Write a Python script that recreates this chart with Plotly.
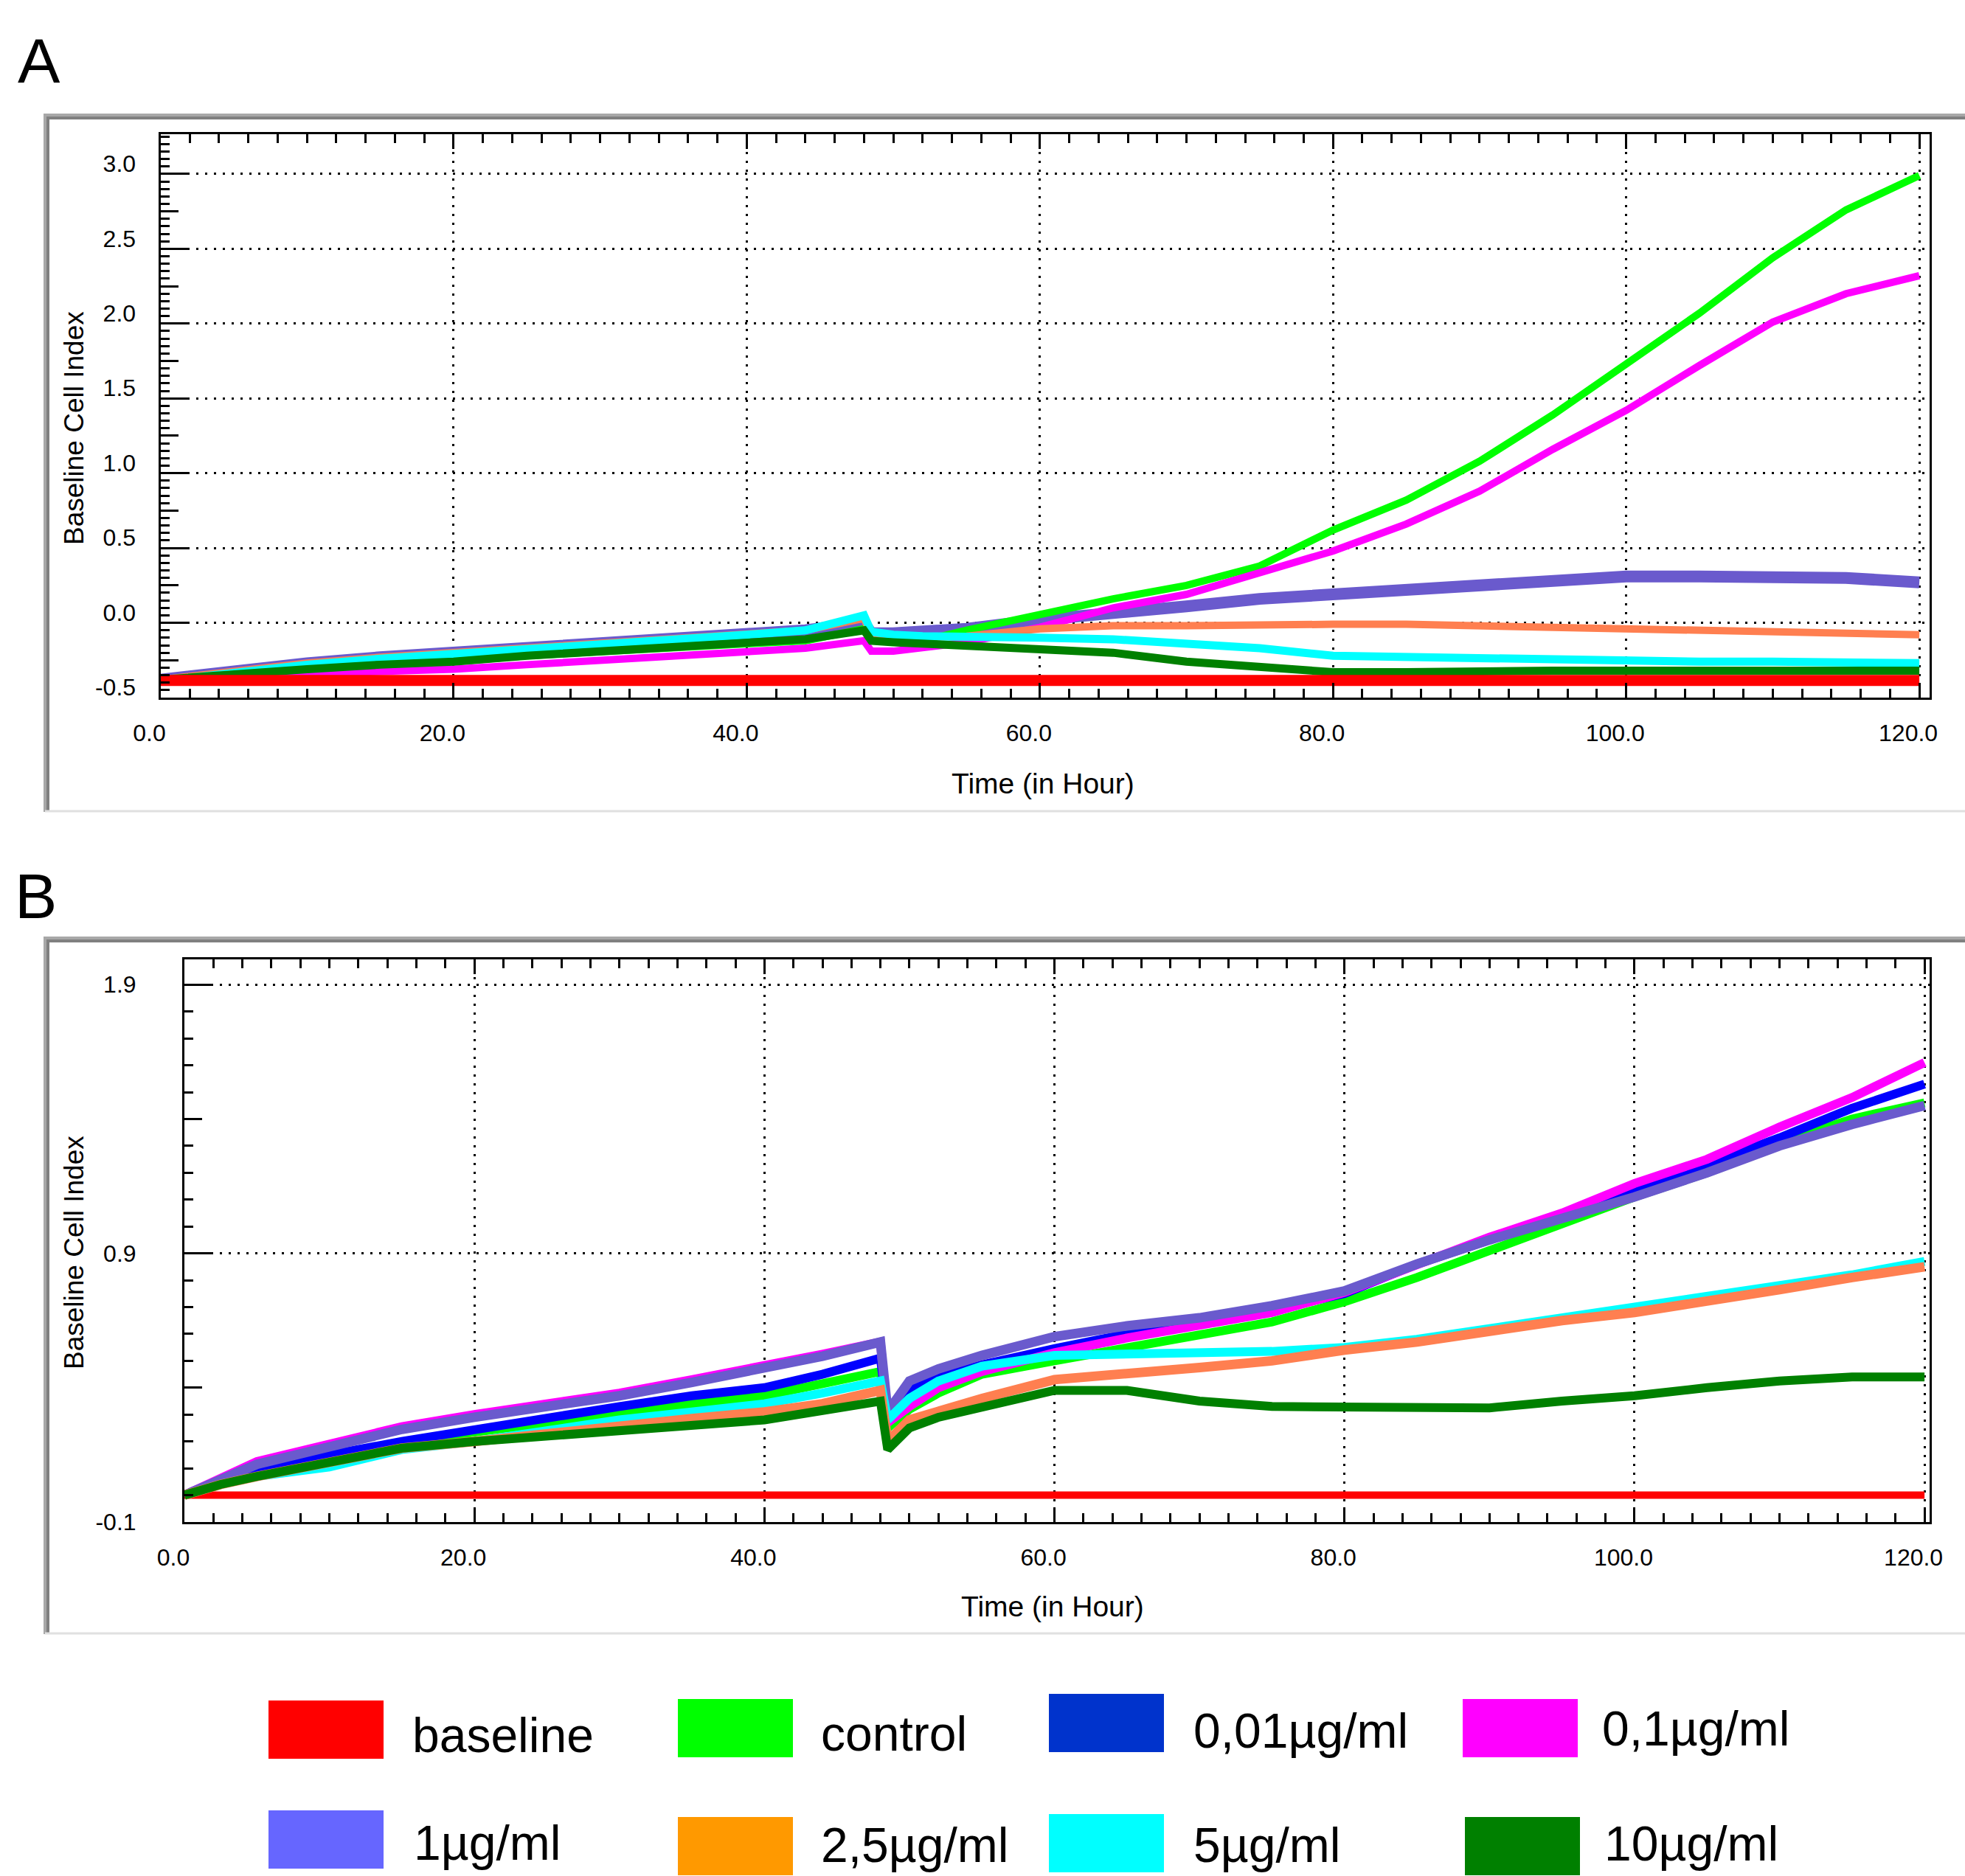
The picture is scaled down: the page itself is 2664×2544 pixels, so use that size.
import plotly.graph_objects as go

# ---------------- data ----------------
hours = [0, 2.5, 5, 10, 15, 20, 25, 30, 35, 40, 44, 48, 48.5, 50, 52, 55,
         60, 65, 70, 75, 80, 85, 90, 95, 100, 105, 110, 115, 120]

# Panel A - Baseline Cell Index
a_baseline = [-0.385] * 29
a_control = [-0.38, -0.36, -0.34, -0.31, -0.28, -0.26, -0.22, -0.19, -0.17, -0.14, -0.12, -0.04,
             -0.12, -0.12, -0.12, -0.05, 0.06, 0.16, 0.25, 0.38, 0.62, 0.82, 1.08, 1.39, 1.73,
             2.07, 2.44, 2.76, 2.99]
a_dose_0_1 = [-0.39, -0.37, -0.36, -0.34, -0.33, -0.31, -0.28, -0.25, -0.22, -0.19, -0.17, -0.12,
              -0.19, -0.19, -0.17, -0.13, -0.03, 0.10, 0.19, 0.33, 0.48, 0.66, 0.88, 1.16, 1.42,
              1.72, 2.01, 2.20, 2.32]
a_dose_1 = [-0.38, -0.35, -0.33, -0.27, -0.23, -0.20, -0.16, -0.13, -0.10, -0.08, -0.05, 0.00,
            -0.07, -0.07, -0.06, -0.04, 0.02, 0.06, 0.11, 0.16, 0.19, 0.22, 0.25, 0.28, 0.31,
            0.31, 0.31, 0.30, 0.27]
a_dose_2_5 = [-0.38, -0.35, -0.33, -0.27, -0.23, -0.20, -0.16, -0.13, -0.10, -0.08, -0.05, 0.03,
              -0.09, -0.10, -0.10, -0.09, -0.04, -0.02, -0.02, -0.01, -0.01, -0.01, -0.02, -0.03,
              -0.04, -0.05, -0.06, -0.07, -0.08]
a_dose_5 = [-0.39, -0.36, -0.33, -0.28, -0.24, -0.21, -0.17, -0.14, -0.11, -0.08, -0.05, 0.05,
            -0.06, -0.08, -0.09, -0.09, -0.10, -0.11, -0.14, -0.17, -0.22, -0.23, -0.24, -0.25,
            -0.25, -0.26, -0.26, -0.27, -0.27]
a_dose_10 = [-0.38, -0.36, -0.34, -0.31, -0.28, -0.26, -0.22, -0.19, -0.16, -0.13, -0.11, -0.05,
             -0.12, -0.13, -0.14, -0.15, -0.17, -0.20, -0.26, -0.30, -0.33, -0.33, -0.32, -0.32,
             -0.32, -0.32, -0.32, -0.32, -0.32]

# Panel B - Baseline Cell Index
b_baseline = [0.0] * 29
b_control = [0.0, 0.05, 0.09, 0.14, 0.19, 0.235, 0.27, 0.30, 0.34, 0.37, 0.415, 0.46, 0.25, 0.32,
             0.38, 0.45, 0.50, 0.55, 0.60, 0.645, 0.72, 0.81, 0.91, 1.01, 1.11, 1.20, 1.31, 1.40, 1.46]
b_dose_0_01 = [0.0, 0.05, 0.09, 0.15, 0.20, 0.245, 0.29, 0.33, 0.37, 0.40, 0.45, 0.51, 0.29, 0.39,
               0.44, 0.485, 0.545, 0.60, 0.645, 0.69, 0.75, 0.86, 0.95, 1.04, 1.13, 1.23, 1.33, 1.44, 1.53]
b_dose_0_1 = [0.0, 0.065, 0.125, 0.19, 0.255, 0.30, 0.34, 0.38, 0.43, 0.48, 0.525, 0.57, 0.27, 0.33,
              0.40, 0.46, 0.53, 0.585, 0.63, 0.68, 0.755, 0.86, 0.96, 1.05, 1.16, 1.25, 1.37, 1.48, 1.61]
b_dose_1 = [0.0, 0.06, 0.115, 0.18, 0.245, 0.29, 0.33, 0.37, 0.42, 0.47, 0.517, 0.57, 0.31, 0.425,
            0.47, 0.52, 0.59, 0.63, 0.66, 0.705, 0.76, 0.86, 0.95, 1.03, 1.11, 1.20, 1.30, 1.38, 1.45]
b_dose_2_5 = [0.0, 0.04, 0.07, 0.125, 0.175, 0.20, 0.23, 0.26, 0.285, 0.31, 0.34, 0.39, 0.20, 0.28,
              0.315, 0.36, 0.43, 0.45, 0.475, 0.50, 0.54, 0.57, 0.61, 0.65, 0.68, 0.72, 0.765, 0.81, 0.85]
b_dose_5 = [0.0, 0.04, 0.07, 0.105, 0.17, 0.20, 0.24, 0.28, 0.31, 0.34, 0.38, 0.425, 0.28, 0.36,
            0.425, 0.48, 0.52, 0.525, 0.525, 0.535, 0.55, 0.58, 0.62, 0.66, 0.70, 0.74, 0.78, 0.82, 0.87]
b_dose_10 = [0.0, 0.04, 0.07, 0.125, 0.175, 0.20, 0.22, 0.24, 0.265, 0.28, 0.315, 0.35, 0.17, 0.25,
             0.29, 0.33, 0.39, 0.39, 0.35, 0.33, 0.33, 0.33, 0.325, 0.35, 0.37, 0.40, 0.425, 0.44, 0.44]

# axis tick values
a_yticks = [-0.5, 0.0, 0.5, 1.0, 1.5, 2.0, 2.5, 3.0]
b_yticks = [-0.1, 0.9, 1.9]

legend_labels = ["baseline", "control", "0,01µg/ml", "0,1µg/ml",
                 "1µg/ml", "2,5µg/ml", "5µg/ml", "10µg/ml"]
legend_colors = ["#FF0000", "#00FF00", "#0033CC", "#FF00FF",
                 "#6666FF", "#FF9900", "#00FFFF", "#008000"]

# ---------------- layout helpers ----------------
W, H = 2664, 2544


def px(x):
    return x / W


def py(y):
    return 1 - y / H


SANS = "Liberation Sans, Arial, sans-serif"

fig = go.Figure()


def add_line(x, y, color, width, xa, ya):
    fig.add_trace(go.Scatter(x=x, y=y, mode="lines", xaxis=xa, yaxis=ya,
                             line=dict(color=color, width=width),
                             showlegend=False, hoverinfo="skip"))


# Panel A curves
add_line(hours, a_dose_1, "#6A5ACD", 16, "x", "y")
add_line(hours, a_control, "#00FF00", 10, "x", "y")
add_line(hours, a_dose_0_1, "#FF00FF", 10, "x", "y")
add_line(hours, a_dose_2_5, "#FF7F50", 10, "x", "y")
add_line(hours, a_dose_5, "#00FFFF", 11, "x", "y")
add_line(hours, a_dose_10, "#008000", 11, "x", "y")
add_line(hours, a_baseline, "#FF0000", 15, "x", "y")

# Panel B curves
add_line(hours, b_baseline, "#FF0000", 10, "x2", "y2")
add_line(hours, b_control, "#00FF00", 12, "x2", "y2")
add_line(hours, b_dose_0_01, "#0000FF", 12, "x2", "y2")
add_line(hours, b_dose_0_1, "#FF00FF", 12, "x2", "y2")
add_line(hours, b_dose_1, "#6A5ACD", 13, "x2", "y2")
add_line(hours, b_dose_5, "#00FFFF", 12, "x2", "y2")
add_line(hours, b_dose_2_5, "#FF7F50", 13, "x2", "y2")
add_line(hours, b_dose_10, "#008000", 12, "x2", "y2")

# empty traces so the overlay axes carrying the mid-length ticks get drawn
fig.add_trace(go.Scatter(x=[], y=[], xaxis="x", yaxis="y3", showlegend=False))
fig.add_trace(go.Scatter(x=[], y=[], xaxis="x2", yaxis="y4", showlegend=False))

tickfont = dict(family=SANS, size=32, color="black")
grid = dict(showgrid=True, gridcolor="black", gridwidth=3, griddash="3px,9px")


def xaxis(domain, rng, anchor):
    return dict(domain=domain, range=rng, anchor=anchor, tick0=0, dtick=20, automargin=False,
                tickformat=".1f", ticks="inside", ticklen=20, tickwidth=3, tickcolor="black",
                showline=True, linewidth=3, linecolor="black", mirror="ticks",
                zeroline=False, tickfont=tickfont, ticklabelstandoff=18, ticklabelshift=-15,
                minor=dict(tick0=0, dtick=2, ticks="inside", ticklen=12, tickwidth=3,
                           tickcolor="black", showgrid=False),
                **grid)


def yaxis(domain, rng, anchor, vals, mtick0, mdtick, standoff, shift):
    return dict(domain=domain, range=rng, anchor=anchor, automargin=False,
                tickmode="array", tickvals=vals, ticktext=[f"{v:.1f}" for v in vals],
                ticks="inside", ticklen=37, tickwidth=3, tickcolor="black",
                showline=True, linewidth=3, linecolor="black", mirror=True,
                zeroline=False, tickfont=tickfont, ticklabelstandoff=standoff,
                ticklabelshift=shift,
                minor=dict(tick0=mtick0, dtick=mdtick, ticks="inside", ticklen=12, tickwidth=3,
                           tickcolor="black", showgrid=False),
                **grid)


def mid_ticks(over, rng, anchor, vals):
    return dict(overlaying=over, range=rng, anchor=anchor, side="left", automargin=False,
                tickmode="array", tickvals=vals, ticks="inside", ticklen=24,
                tickwidth=3, tickcolor="black", showticklabels=False,
                showgrid=False, showline=False, zeroline=False)


a_xdom = [px(217.5), px(2616)]
a_ydom = [py(946), py(182)]
b_xdom = [px(250), px(2616)]
b_ydom = [py(2064), py(1301)]
a_yrange = [-0.5, 3.266]
b_yrange = [-0.1, 1.994]

fig.update_layout(
    width=W, height=H, margin=dict(l=0, r=0, t=0, b=0, autoexpand=False),
    paper_bgcolor="white", plot_bgcolor="white", showlegend=False,
    xaxis=xaxis(a_xdom, [0, 120.7], "y"),
    yaxis=yaxis(a_ydom, a_yrange, "x", a_yticks, 0, 0.05, 24, -14),
    yaxis3=mid_ticks("y", a_yrange, "x", [-0.25, 0.25, 0.75, 1.25, 1.75, 2.25, 2.75]),
    xaxis2=xaxis(b_xdom, [0, 120.35], "y2"),
    yaxis2=yaxis(b_ydom, b_yrange, "x2", b_yticks, -0.1, 0.1, 56, 0),
    yaxis4=mid_ticks("y2", b_yrange, "x2", [0.4, 1.4]),
)

shapes = []
# sunken panel frames
for top, bottom in [(158, 1099), (1274, 2214)]:
    shapes.append(dict(type="line", xref="paper", yref="paper", x0=px(61), x1=1, y0=py(top - 2), y1=py(top - 2),
                       line=dict(color="#A8A8A8", width=4)))
    shapes.append(dict(type="line", xref="paper", yref="paper", x0=px(65), x1=1, y0=py(top + 2), y1=py(top + 2),
                       line=dict(color="#808080", width=4)))
    shapes.append(dict(type="line", xref="paper", yref="paper", x0=px(61), x1=px(61), y0=py(top - 4), y1=py(bottom + 2),
                       line=dict(color="#A8A8A8", width=4)))
    shapes.append(dict(type="line", xref="paper", yref="paper", x0=px(65), x1=px(65), y0=py(top), y1=py(bottom),
                       line=dict(color="#808080", width=4)))
    shapes.append(dict(type="line", xref="paper", yref="paper", x0=px(61), x1=1, y0=py(bottom + 1), y1=py(bottom + 1),
                       line=dict(color="#E0E0E0", width=3)))

# legend swatches
legend_boxes = [(364, 2306), (919, 2304), (1422, 2297), (1983, 2304),
                (364, 2455), (919, 2464), (1422, 2460), (1986, 2464)]
legend_text_pos = [(557, 2353), (1111, 2351), (1616, 2347), (2170, 2344),
                   (559, 2499), (1111, 2502), (1616, 2502), (2173, 2500)]
for (bx, by), col in zip(legend_boxes, legend_colors):
    shapes.append(dict(type="rect", xref="paper", yref="paper",
                       x0=px(bx), x1=px(bx + 156), y0=py(min(by + 79, 2544)), y1=py(by),
                       fillcolor=col, line=dict(width=0)))
fig.update_layout(shapes=shapes)

annotations = []
for (tx, ty), lab in zip(legend_text_pos, legend_labels):
    annotations.append(dict(text=lab, x=px(tx), y=py(ty), xref="paper", yref="paper",
                            xanchor="left", yanchor="middle", showarrow=False,
                            font=dict(family=SANS, size=66, color="black")))

# panel letters
annotations.append(dict(text="A", x=px(53), y=py(82), xref="paper", yref="paper",
                        xanchor="center", yanchor="middle", showarrow=False,
                        font=dict(family=SANS, size=86, color="black")))
annotations.append(dict(text="B", x=px(48), y=py(1215), xref="paper", yref="paper",
                        xanchor="center", yanchor="middle", showarrow=False,
                        font=dict(family=SANS, size=86, color="black")))

# axis titles
for (yx, yy), (tx, ty) in [((100, 581), (1414, 1062)), ((100, 1699), (1427, 2178))]:
    annotations.append(dict(text="Baseline Cell Index", x=px(yx), y=py(yy), xref="paper", yref="paper",
                            xanchor="center", yanchor="middle", textangle=-90, showarrow=False,
                            font=dict(family=SANS, size=37, color="black")))
    annotations.append(dict(text="Time (in Hour)", x=px(tx), y=py(ty), xref="paper", yref="paper",
                            xanchor="center", yanchor="middle", showarrow=False,
                            font=dict(family=SANS, size=39, color="black")))

fig.update_layout(annotations=annotations)

fig.write_html("out.html")
